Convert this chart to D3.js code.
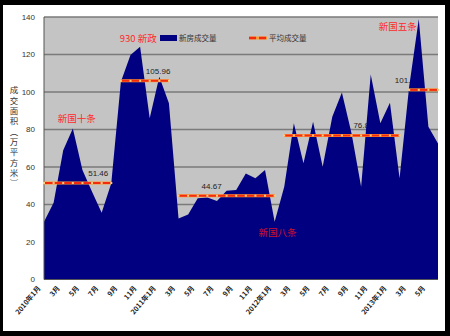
<!DOCTYPE html>
<html><head><meta charset="utf-8">
<script src="https://cdn.jsdelivr.net/npm/d3@7/dist/d3.min.js"></script>
<style>html,body{margin:0;padding:0;background:#000;}svg{display:block;}</style>
</head><body>
<svg id="chart" width="450" height="336"></svg>
<script>
// ---------- data ----------
const categories = [
  "2010年1月","2月","3月","4月","5月","6月","7月","8月","9月","10月","11月","12月",
  "2011年1月","2月","3月","4月","5月","6月","7月","8月","9月","10月","11月","12月",
  "2012年1月","2月","3月","4月","5月","6月","7月","8月","9月","10月","11月","12月",
  "2013年1月","2月","3月","4月","5月","6月"
];
const salesArea = [
  30.8, 41, 69, 80.6, 58.4, 46.8, 35.6, 51.3, 105.5, 119.7, 124.2, 86,
  108.2, 94, 32.6, 34.7, 43.3, 43.8, 41.9, 47.4, 47.7, 56.6, 54, 58.4,
  30.8, 49.5, 83.3, 62, 84.2, 60.2, 86.8, 99.7, 78, 49.5, 109.4, 83.3,
  94.3, 54, 103, 139, 81.5, 72.6
];
const avgStart  = [0, 8, 14, 25, 38];
const avgEnd    = [7, 13, 24, 37, 41];
const avgValues = [51.46, 105.96, 44.67, 76.81, 101.13];
const avgLabels = ["51.46", "105.96", "44.67", "76.81", "101.13"];
const avgLabelAt = [4.6, 10.6, 16.4, 32.2, 36.5];
const yTicks = [0, 20, 40, 60, 80, 100, 120, 140];
const notes = ["新国十条", "930 新政", "新国八条", "新国五条"];
const noteAtIndex = [3.4, 9.8, 24.3, 36.8];
const noteAtValue = [86, 128.8, 25, 134.8];
const seriesNames = ["新房成交量", "平均成交量"];
const yTitle = "成交面积（万平方米）";

// ---------- layout ----------
const svg = d3.select("#chart");
const L = 44, R = 438, T = 17, B = 279.5;
const cjk = "'Noto Sans CJK SC','Noto Sans',sans-serif";
const num = "'Liberation Sans Narrow','Liberation Sans',Arial,sans-serif";

svg.append("rect").attr("x",3).attr("y",5).attr("width",442).attr("height",326).attr("fill","#fff");

const x = d3.scalePoint().domain(d3.range(categories.length)).range([L, R]).padding(0);
const xc = d3.scaleLinear().domain([0, categories.length - 1]).range([L, R]);
const y = d3.scaleLinear().domain([0, 140]).range([B, T]);

// plot background
svg.append("rect").attr("x",L).attr("y",T).attr("width",R-L).attr("height",B-T).attr("fill","#c4c4c4");

// gridlines
svg.append("g").selectAll("line").data(yTicks.filter(d=>d>0)).join("line")
  .attr("x1",L).attr("x2",R).attr("y1",d=>y(d)).attr("y2",d=>y(d))
  .attr("stroke","#7a7a7a").attr("stroke-width",1.5);

// y tick labels
svg.append("g").selectAll("text").data(yTicks).join("text")
  .attr("x",35).attr("y",d=>y(d)+2.5).attr("text-anchor","end")
  .attr("font-family",num).attr("font-size",8).attr("fill","#333").text(d=>d);

// y title (vertical)
svg.append("text").attr("x",14).attr("y",86)
  .style("writing-mode","vertical-rl").style("text-orientation","upright")
  .attr("font-family",cjk).attr("font-size",8.5).attr("letter-spacing",1.8)
  .attr("fill","#333").text(yTitle);

// average labels (under area)
svg.append("g").selectAll("text").data(avgLabels).join("text")
  .attr("x",(d,i)=>xc(avgLabelAt[i])).attr("y",(d,i)=>y(avgValues[i]) - 7)
  .attr("font-family",num).attr("font-size",8).attr("fill","#222").text(d=>d);

// area
const area = d3.area().x((d,i)=>x(i)).y0(B).y1(d=>y(d));
svg.append("path").datum(salesArea).attr("d",area).attr("fill","#000080");

// axes lines
svg.append("line").attr("x1",L).attr("x2",L).attr("y1",T).attr("y2",B).attr("stroke","#555").attr("stroke-width",1);
svg.append("line").attr("x1",L).attr("x2",R).attr("y1",B).attr("y2",B).attr("stroke","#555").attr("stroke-width",1);

// average lines
const avgG = svg.append("g");
avgValues.forEach((v,k)=>{
  avgG.append("line").attr("x1",x(avgStart[k])).attr("x2",x(avgEnd[k]))
    .attr("y1",y(v)).attr("y2",y(v)).attr("stroke","#ff9a30").attr("stroke-width",3);
  avgG.append("line").attr("x1",x(avgStart[k])).attr("x2",x(avgEnd[k]))
    .attr("y1",y(v)).attr("y2",y(v)).attr("stroke","#f42a10").attr("stroke-width",2);
  avgG.selectAll(null).data(d3.range(avgStart[k], avgEnd[k]+1)).join("rect")
    .attr("x",i=>x(i)-1).attr("y",y(v)-1).attr("width",2).attr("height",2).attr("fill","#ffd27a");
});

// x labels
svg.append("g").selectAll("text").data(categories.map((c,i)=>({c,i})).filter(d=>d.i%2===0)).join("text")
  .attr("transform",d=>`translate(${x(d.i)-3},${B+9}) rotate(-50)`)
  .attr("text-anchor","end").attr("font-family",cjk).attr("font-size",7).attr("font-weight","bold")
  .attr("fill","#222").text(d=>d.c);

// notes
svg.append("g").selectAll("text").data(notes).join("text")
  .attr("x",(d,i)=>xc(noteAtIndex[i])).attr("y",(d,i)=>y(noteAtValue[i])+3.5)
  .attr("text-anchor","middle").attr("font-family",cjk).attr("font-size",9.5)
  .attr("fill",(d,i)=>i===2?"#d0102a":"#ff2a2a").text(d=>d);

// legend
const lg = svg.append("g");
lg.append("rect").attr("x",160).attr("y",35).attr("width",17).attr("height",6).attr("fill","#000080");
lg.append("text").attr("x",179).attr("y",41).attr("font-family",cjk).attr("font-size",7.5).attr("fill","#333").text(seriesNames[0]);
lg.append("line").attr("x1",249).attr("x2",267).attr("y1",38).attr("y2",38).attr("stroke","#ff9a30").attr("stroke-width",3);
lg.append("line").attr("x1",249).attr("x2",267).attr("y1",38).attr("y2",38).attr("stroke","#f42a10").attr("stroke-width",2.5).attr("stroke-dasharray","7,3");
lg.append("text").attr("x",269).attr("y",41).attr("font-family",cjk).attr("font-size",7.5).attr("fill","#333").text(seriesNames[1]);
</script>
</body></html>
